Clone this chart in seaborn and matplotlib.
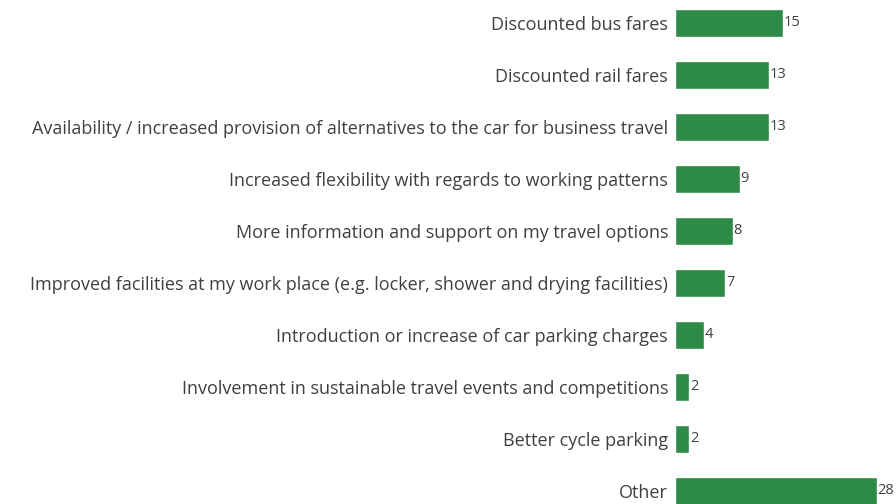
import matplotlib
matplotlib.use("Agg")
import matplotlib.pyplot as plt
import seaborn as sns
import pandas as pd

categories = [
    "Discounted bus fares",
    "Discounted rail fares",
    "Availability / increased provision of alternatives to the car for business travel",
    "Increased flexibility with regards to working patterns",
    "More information and support on my travel options",
    "Improved facilities at my work place (e.g. locker, shower and drying facilities)",
    "Introduction or increase of car parking charges",
    "Involvement in sustainable travel events and competitions",
    "Better cycle parking",
    "Other",
]
values = [15, 13, 13, 9, 8, 7, 4, 2, 2, 28]

sns.set_theme(style="white")
plt.rcParams["font.family"] = ["Open Sans", "DejaVu Sans"]

df = pd.DataFrame({"measure": categories, "pct": values})

W, H = 896, 504
fig = plt.figure(figsize=(W / 100, H / 100), dpi=100)
left_px, slot = 675, 52
top_px = 23 - slot / 2
n = len(categories)
ax = fig.add_axes([left_px / W, (H - (top_px + n * slot)) / H, (W - left_px) / W, n * slot / H])

bar_color = "#2E8B47"
sns.barplot(data=df, x="pct", y="measure", orient="h", color=bar_color,
            width=0.54, saturation=1, ax=ax)

ax.set_xlim(0, (W - left_px) / 7.2)
ax.set_ylim(n - 0.5, -0.5)
for c in ax.containers:
    ax.bar_label(c, labels=[str(v) for v in values], padding=0.5,
                 fontsize=10.5, color="#404040")

ax.set_xlabel("")
ax.set_ylabel("")
ax.set_xticks([])
ax.tick_params(axis="y", length=0, pad=5, labelsize=13, labelcolor="#404040")
sns.despine(ax=ax, left=True, bottom=True)

fig.savefig("out.png", dpi=100)
